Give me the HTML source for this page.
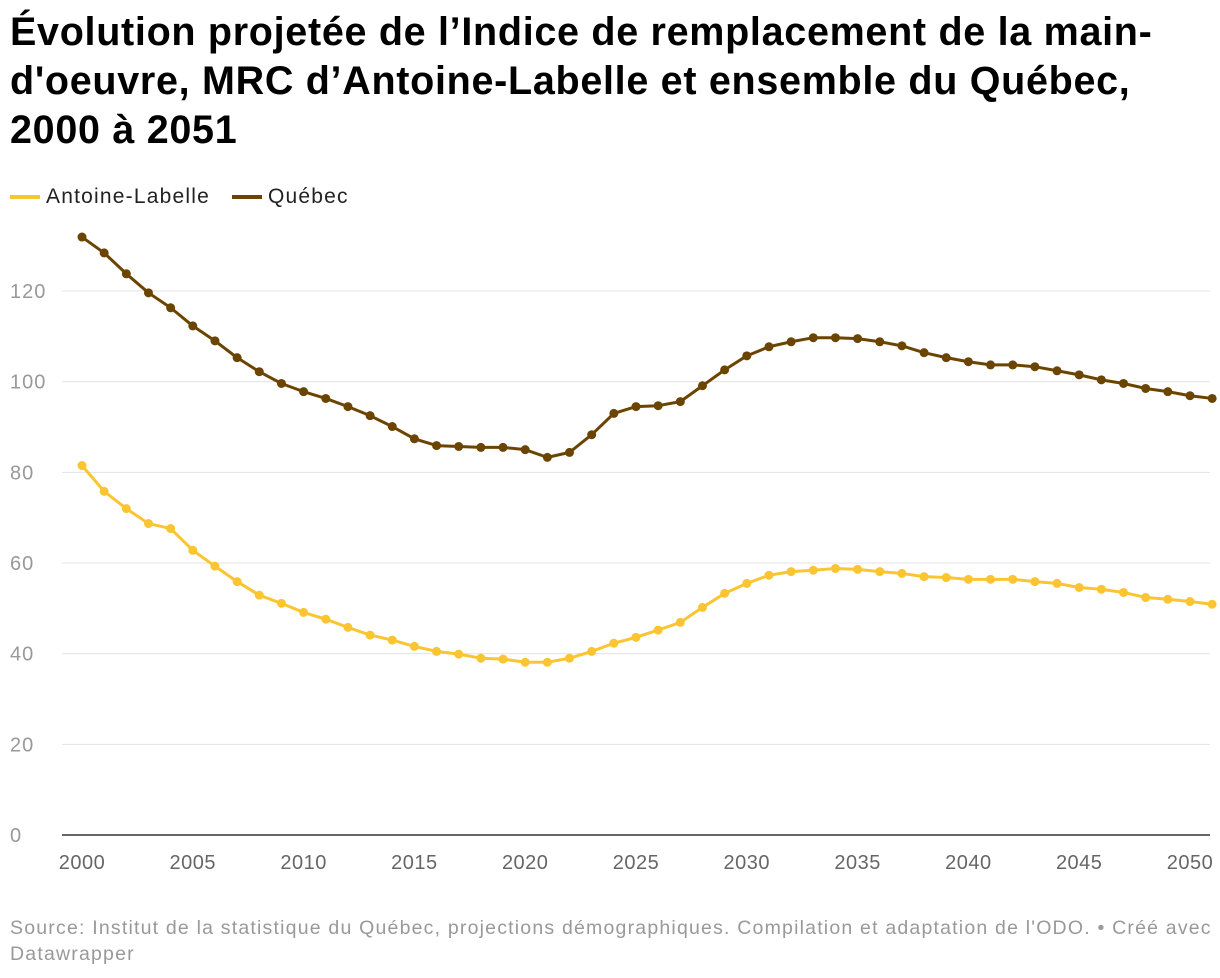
<!DOCTYPE html>
<html><head><meta charset="utf-8"><style>
body{margin:0;width:1220px;height:978px;background:#fff;font-family:"Liberation Sans",sans-serif;overflow:hidden}
h1{position:absolute;left:10px;top:8px;margin:0;font-size:39.5px;line-height:49px;font-weight:bold;color:#000;width:1210px;white-space:nowrap;letter-spacing:0.7px}
.legend{position:absolute;top:185px;left:10px;font-size:21px;color:#222;display:flex;gap:22px;letter-spacing:1.2px}
.legend span{display:flex;align-items:center}
.legend i{display:inline-block;width:30px;height:4px;margin-right:6px}
.src{position:absolute;left:10px;top:915px;font-size:19.5px;color:#999;line-height:26px;width:1210px;white-space:nowrap;letter-spacing:1.2px}
svg{position:absolute;left:0;top:0}
</style></head><body>
<h1>Évolution projetée de l’Indice de remplacement de la main-<br>d'oeuvre, MRC d’Antoine-Labelle et ensemble du Québec,<br>2000 à 2051</h1>
<div class="legend">
<span><i style="background:#fbc531"></i>Antoine-Labelle</span>
<span><i style="background:#6b4500"></i>Québec</span>
</div>
<svg id="chart" width="1220" height="978"></svg>
<div class="src">Source: Institut de la statistique du Québec, projections démographiques. Compilation et adaptation de l'ODO. • Créé avec<br>Datawrapper</div>
<script>
const years=[];for(let y=2000;y<=2051;y++)years.push(y);
const quebec=[131.9,128.4,123.8,119.6,116.3,112.3,109,105.3,102.2,99.6,97.8,96.3,94.5,92.5,90.1,87.4,85.9,85.7,85.5,85.5,85,83.3,84.4,88.3,93,94.5,94.7,95.6,99.1,102.6,105.7,107.7,108.8,109.7,109.7,109.5,108.8,107.9,106.4,105.3,104.4,103.7,103.7,103.3,102.4,101.5,100.4,99.6,98.5,97.8,96.9,96.3];
const antoine=[81.5,75.8,72,68.7,67.6,62.8,59.3,55.9,52.9,51.1,49.1,47.6,45.8,44.1,43,41.6,40.5,39.9,39,38.8,38.1,38.1,39,40.5,42.3,43.6,45.2,46.9,50.2,53.3,55.5,57.3,58.1,58.4,58.8,58.6,58.1,57.7,57,56.8,56.4,56.4,56.4,55.9,55.5,54.6,54.2,53.5,52.4,52,51.5,50.9];
const yTicks=[0,20,40,60,80,100,120];
const xTicks=[2000,2005,2010,2015,2020,2025,2030,2035,2040,2045,2050];
const NS="http://www.w3.org/2000/svg",svg=document.getElementById('chart');
const x=v=>82+(v-2000)*(1190-82)/50;
const y=v=>835-v*(835-291)/120;
function mk(t,a){const e=document.createElementNS(NS,t);for(const k in a)e.setAttribute(k,a[k]);svg.appendChild(e);return e;}
yTicks.forEach(v=>{
 if(v>0){const g=mk('line',{x1:62,x2:1210,y1:y(v),y2:y(v),stroke:'#e3e3e3','stroke-width':1});
 
 }
 const t=mk('text',{x:10,y:y(v)+7,'font-size':20,fill:'#999','font-family':'Liberation Sans','letter-spacing':1});t.textContent=v;
 
 
});
const ax=mk('line',{x1:62,x2:1210,y1:835,y2:835,stroke:'#333','stroke-width':1.5});


xTicks.forEach(v=>{
 const t=mk('text',{x:x(v),y:869,'font-size':20,fill:'#666','text-anchor':'middle','font-family':'Liberation Sans','letter-spacing':0.5});t.textContent=v;
 
 
});
function series(arr,col,name){
 const p=mk('polyline',{points:arr.map((v,i)=>x(years[i])+','+y(v)).join(' '),fill:'none',stroke:col,'stroke-width':3,'stroke-linejoin':'round'});
 
 
 arr.forEach((v,i)=>{const c=mk('circle',{cx:x(years[i]),cy:y(v),r:4.5,fill:col});
 
 });
}
series(antoine,'#fbc531','antoine-labelle');
series(quebec,'#6b4500','quebec');
</script>
</body></html>
